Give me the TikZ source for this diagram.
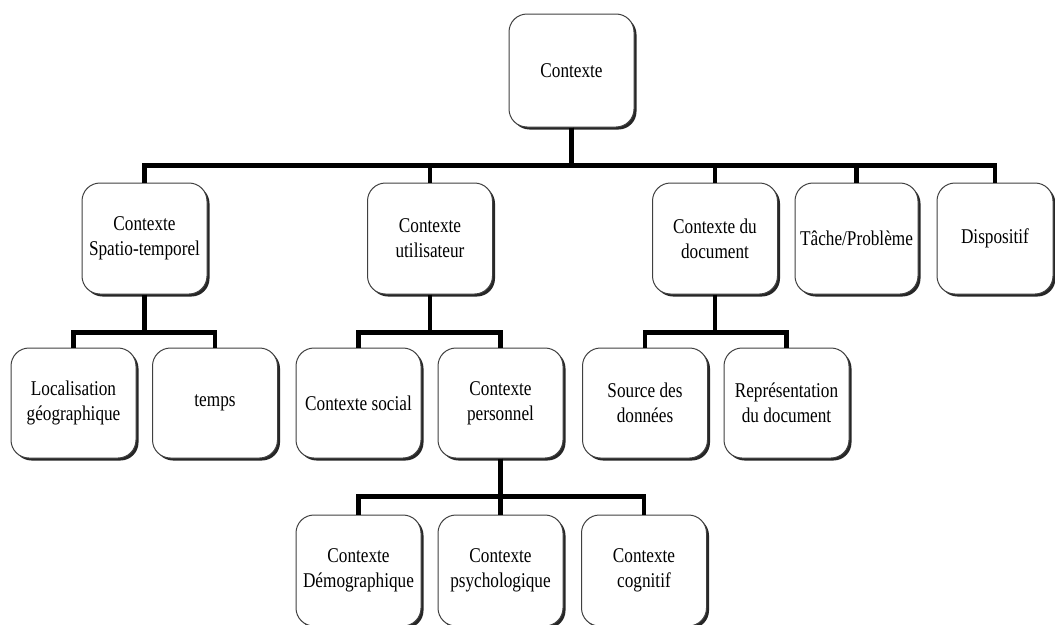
\documentclass[tikz,border=0pt]{standalone}
\usepackage{fontspec}
\setmainfont{Liberation Serif}[FakeStretch=0.82]
\usetikzlibrary{shadows}
\begin{document}
\begin{tikzpicture}[x=1pt,y=-1pt,
  box/.style={draw=black!75, line width=1pt, fill=white, rounded corners=18pt,
    minimum width=125pt, minimum height=111pt, inner sep=2pt, align=center,
    font=\fontsize{21}{25}\selectfont,
    drop shadow={shadow xshift=2.5pt, shadow yshift=-2.5pt, fill=black!85, opacity=1}},
  conn/.style={line width=4.5pt, black}]
\useasboundingbox (0,0) rectangle (1055,624);
\clip (0,0) rectangle (1055,624);
% level 0
\node[box, minimum height=113pt] (ctx) at (571.5,70.5) {Contexte};
% level 1
\node[box] (spt) at (144.5,238.5) {Contexte\\Spatio-temporel};
\node[box] (usr) at (430,238.5) {Contexte\\utilisateur};
\node[box] (doc) at (715,238.5) {Contexte du\\document};
\node[box, minimum width=123pt] (tac) at (856.5,238.5) {Tâche/Problème};
\node[box, minimum width=116pt] (dis) at (995,238.5) {Dispositif};
% level 2
\node[box, minimum height=110pt] (loc) at (73.5,403) {Localisation\\géographique};
\node[box, minimum height=110pt] (tmp) at (215,403) {temps};
\node[box, minimum height=110pt] (soc) at (358.5,403) {Contexte social};
\node[box, minimum height=110pt] (per) at (500.5,403) {Contexte\\personnel};
\node[box, minimum height=110pt] (src) at (645,403) {Source des\\données};
\node[box, minimum height=110pt] (rep) at (786.5,403) {Représentation\\du document};
% level 3
\node[box] (dem) at (358.5,570.5) {Contexte\\Démographique};
\node[box] (psy) at (500.5,570.5) {Contexte\\psychologique};
\node[box] (cog) at (644,570.5) {Contexte\\cognitif};
% connectors
\foreach \c in {spt,usr,doc,tac,dis} \draw[conn] (ctx.south) -- ++(0,38) -| (\c.north);
\foreach \c in {loc,tmp} \draw[conn] (spt.south) -- ++(0,38) -| (\c.north);
\foreach \c in {soc,per} \draw[conn] (usr.south) -- ++(0,38) -| (\c.north);
\foreach \c in {src,rep} \draw[conn] (doc.south) -- ++(0,38) -| (\c.north);
\foreach \c in {dem,psy,cog} \draw[conn] (per.south) -- ++(0,38) -| (\c.north);
\end{tikzpicture}
\end{document}
